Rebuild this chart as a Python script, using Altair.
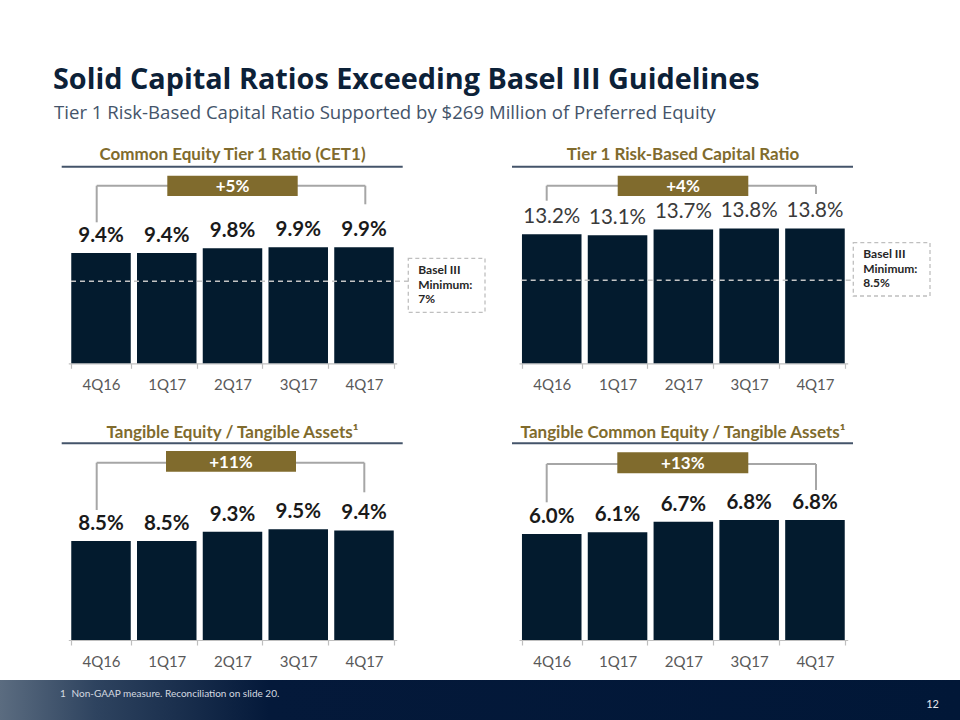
import altair as alt
import pandas as pd

# ---------------- data ----------------
quarters = ["4Q16", "1Q17", "2Q17", "3Q17", "4Q17"]
cet1 = [9.4, 9.4, 9.8, 9.9, 9.9]
tier1 = [13.2, 13.1, 13.7, 13.8, 13.8]
te_ta = [8.5, 8.5, 9.3, 9.5, 9.4]
tce_ta = [6.0, 6.1, 6.7, 6.8, 6.8]
series = [cet1, tier1, te_ta, tce_ta]
headers = [
    "Common Equity Tier 1 Ratio (CET1)",
    "Tier 1 Risk-Based Capital Ratio",
    "Tangible Equity / Tangible Assets\u00b9",
    "Tangible Common Equity / Tangible Assets\u00b9",
]
growth = ["+5%", "+4%", "+11%", "+13%"]
basel_min = [7, 8.5]
title = "Solid Capital Ratios Exceeding Basel III Guidelines"
subtitle = "Tier 1 Risk-Based Capital Ratio Supported by $269 Million of Preferred Equity"
footnote_num = "1"
footnote = "Non-GAAP measure. Reconciliation on slide 20."
page_num = "12"

# ---------------- style / layout ----------------
FONT = "Lato"
TFONT = "Open Sans"
NAVY = "#031b2e"
GOLD = "#806b2d"
TITLE_C = "#0c2138"
SUB_C = "#44546a"
BRACKET_C = "#a6a6a6"

P = [
    dict(xl=68.3, xr=396.7, base=363.3, k=11.73, hx=232.5, hy=160,
         line=(61.7, 402.7, 166.7), box=(167.3, 297.7, 175.7, 196),
         br=(96.7, 365.3, 185.7, 222.3, 204.3), bold=True),
    dict(xl=519, xr=847.7, base=363.3, k=9.77, hx=683, hy=160,
         line=(512, 853, 166.7), box=(617.7, 748.3, 175.7, 196),
         br=(546.7, 816, 185.7, 200.7, 194), bold=False),
    dict(xl=68.3, xr=396.7, base=640, k=11.65, hx=232.5, hy=438,
         line=(61.7, 402.7, 443.3), box=(166, 296, 451, 471.7),
         br=(96.7, 364.3, 462.7, 510, 492.3), bold=True),
    dict(xl=519, xr=847.7, base=640, k=17.65, hx=683, hy=438.3,
         line=(512, 853, 443.3), box=(617.3, 748.3, 452.3, 473.3),
         br=(546.7, 816, 464, 502.3, 490), bold=True),
]
BASEL = [
    dict(panel=0, x0=71, rect=(408.3, 485, 258.3, 312.3), tx=418.3, ty=274.3),
    dict(panel=1, x0=521.7, rect=(853.3, 930, 242.7, 296), tx=863.3, ty=258.3),
]

one = pd.DataFrame({"k": [0]})
layers = []

# footer band
footer_grad = alt.Gradient(
    gradient="linear", x1=0, x2=1, y1=0, y2=0,
    stops=[alt.GradientStop(offset=0, color="#5b6c80"),
           alt.GradientStop(offset=0.1, color="#2e435f"),
           alt.GradientStop(offset=0.28, color="#04193a"),
           alt.GradientStop(offset=1, color="#011737")])
layers.append(alt.Chart(one).mark_rect(fill=footer_grad).encode(
    x=alt.value(0), x2=alt.value(960), y=alt.value(680), y2=alt.value(720)))
layers.append(alt.Chart(pd.DataFrame({"t": [footnote_num]})).mark_text(
    font=FONT, fontSize=10, color="#d5dae0", align="left", baseline="alphabetic"
).encode(x=alt.value(60), y=alt.value(697), text="t:N"))
layers.append(alt.Chart(pd.DataFrame({"t": [footnote]})).mark_text(
    font=FONT, fontSize=10, color="#d5dae0", align="left", baseline="alphabetic"
).encode(x=alt.value(71.5), y=alt.value(697), text="t:N"))
layers.append(alt.Chart(pd.DataFrame({"t": [page_num]})).mark_text(
    font=FONT, fontSize=11, color="#e6e9ed", align="center", baseline="alphabetic"
).encode(x=alt.value(932.5), y=alt.value(707.5), text="t:N"))

# title + subtitle
layers.append(alt.Chart(pd.DataFrame({"t": [title]})).mark_text(
    font=TFONT, fontSize=28.8, fontWeight="bold", color=TITLE_C, align="left", baseline="alphabetic"
).encode(x=alt.value(53), y=alt.value(88.8), text="t:N"))
layers.append(alt.Chart(pd.DataFrame({"t": [subtitle]})).mark_text(
    font=TFONT, fontSize=18.6, color=SUB_C, align="left", baseline="alphabetic"
).encode(x=alt.value(54), y=alt.value(118.5), text="t:N"))

# panels
for i, p in enumerate(P):
    df = pd.DataFrame({"q": quarters, "v": series[i]})
    xenc = alt.X("q:N", sort=quarters,
                 scale=alt.Scale(range=[p["xl"], p["xr"]], paddingInner=0.095, paddingOuter=0.045),
                 axis=alt.Axis(orient="bottom", offset=-(720 - p["base"]), title=None, labelAngle=0,
                               labelFont=FONT, labelFontSize=15, labelColor="#595959",
                               domainColor="#bfbfbf", domainWidth=1.2, tickColor="#bfbfbf",
                               tickWidth=1.2, tickSize=5, tickBand="extent", labelPadding=9,
                               grid=False))
    yenc = alt.Y("v:Q", scale=alt.Scale(domain=[0, 20], range=[p["base"], p["base"] - 20 * p["k"]],
                                        nice=False, zero=True), axis=None)
    bars = alt.Chart(df).mark_bar(color=NAVY).encode(x=xenc, y=yenc)
    labels = alt.Chart(df).transform_calculate(
        lab="format(datum.v, '.1f') + '%'"
    ).mark_text(font=FONT, fontSize=20.5, fontWeight="bold" if p["bold"] else "normal",
                color="#1a1a1a" if p["bold"] else "#3a3a3a", baseline="alphabetic", dy=-11
    ).encode(x=xenc, y=yenc, text="lab:N")
    parts = [bars, labels]
    for j, b in enumerate(BASEL):
        if b["panel"] == i:
            parts.append(alt.Chart(one).mark_rule(color="#c4c4c4", strokeWidth=1.5, strokeDash=[5, 4]).encode(
                y=alt.datum(basel_min[j]), x=alt.value(b["x0"]), x2=alt.value(b["rect"][0])))
    layers.append(alt.layer(*parts))

    # header text + rule
    lx0, lx1, ly = p["line"]
    layers.append(alt.Chart(one).mark_rule(color=SUB_C, strokeWidth=2).encode(
        x=alt.value(lx0), x2=alt.value(lx1), y=alt.value(ly)))
    layers.append(alt.Chart(pd.DataFrame({"t": [headers[i]]})).mark_text(
        font=FONT, fontSize=17, fontWeight="bold", color=GOLD, align="center", baseline="alphabetic"
    ).encode(x=alt.value(p["hx"]), y=alt.value(p["hy"]), text="t:N"))

    # bracket
    bx0, bx1, by, byl, byr = p["br"]
    for (a, b2, c, d) in [(bx0, bx1, by, by), (bx0, bx0, by, byl), (bx1, bx1, by, byr)]:
        layers.append(alt.Chart(one).mark_rule(color=BRACKET_C, strokeWidth=2).encode(
            x=alt.value(a), x2=alt.value(b2), y=alt.value(c), y2=alt.value(d)))
    # growth box
    gx0, gx1, gy0, gy1 = p["box"]
    layers.append(alt.Chart(one).mark_rect(color=GOLD).encode(
        x=alt.value(gx0), x2=alt.value(gx1), y=alt.value(gy0), y2=alt.value(gy1)))
    layers.append(alt.Chart(pd.DataFrame({"t": [growth[i]]})).mark_text(
        font=FONT, fontSize=17, fontWeight="bold", color="white", align="center", baseline="alphabetic"
    ).encode(x=alt.value((gx0 + gx1) / 2), y=alt.value((gy0 + gy1) / 2 + 6.3), text="t:N"))

# Basel boxes
for j, b in enumerate(BASEL):
    rx0, rx1, ry0, ry1 = b["rect"]
    layers.append(alt.Chart(one).mark_rect(fill="white", stroke="#bfbfbf", strokeWidth=1.3,
                                           strokeDash=[4, 3]).encode(
        x=alt.value(rx0), x2=alt.value(rx1), y=alt.value(ry0), y2=alt.value(ry1)))
    lines = ["Basel III", "Minimum:", f"{basel_min[j]:g}%"]
    layers.append(alt.Chart(one).mark_text(
        font=FONT, fontSize=12, fontWeight="bold", color="#262626", align="left",
        baseline="alphabetic", lineHeight=14.5
    ).encode(x=alt.value(b["tx"]), y=alt.value(b["ty"]), text=alt.value(lines)))

chart = alt.layer(*layers).resolve_scale(x="independent", y="independent").properties(
    width=960, height=720, autosize="none", padding=0, background="white"
).configure_view(stroke=None)

chart.save("out.html", embed_options={"renderer": "svg", "actions": False})
